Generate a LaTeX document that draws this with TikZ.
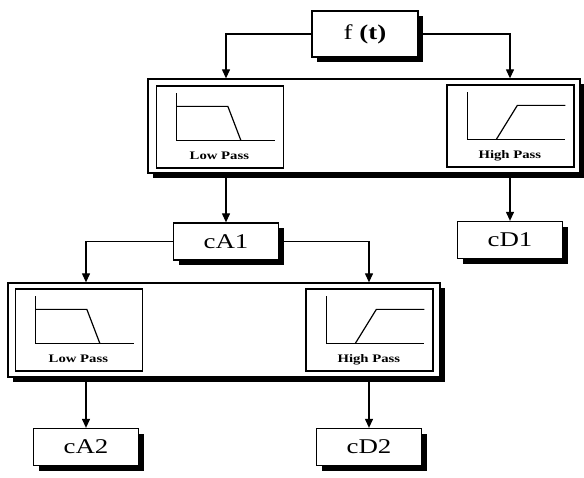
\documentclass[tikz,border=0pt]{standalone}
\usepackage{fontspec}
\newfontfamily\boxfont[FakeStretch=1.28]{Liberation Serif}
\usetikzlibrary{arrows.meta,shadows}

\tikzset{
  sig/.style={draw,fill=white,line width=1.3pt,minimum width=105pt,minimum height=37pt,
    font=\boxfont\fontsize{21}{25}\selectfont,
    drop shadow={shadow xshift=5pt,shadow yshift=-5pt,fill=black,opacity=1}},
  bank/.style={draw,fill=white,line width=1.3pt,minimum width=432pt,minimum height=94pt,
    drop shadow={shadow xshift=5pt,shadow yshift=-5pt,fill=black,opacity=1}},
  filt/.style={draw,line width=1.3pt,minimum width=127pt,minimum height=82pt,inner sep=0pt},
  flabel/.style={anchor=base,inner sep=0pt,font=\boxfont\fontsize{11.5}{13}\selectfont\bfseries},
  lowpass/.pic={
    \draw (21,8) -- (21,55) -- (119,55);
    \draw (21,21) -- (72,21) -- (85,55);
    \node[flabel] (-txt) at (63.5,74) {Low Pass};
  },
  highpass/.pic={
    \draw (21,8) -- (21,55) -- (119,55);
    \draw (50,55) -- (71,21) -- (119,21);
    \node[flabel] (-txt) at (63.5,74) {High Pass};
  }
}

\begin{document}
\begin{tikzpicture}[x=1pt,y=-1pt,line width=1.2pt,>={Triangle[width=8pt,length=9pt]}]
  \useasboundingbox (0,0) rectangle (584,477);
  % first level
  \node[sig,minimum width=106pt,minimum height=46pt] (ft) at (365,34) {f \textbf{(t)}};
  \node[bank] (bank1) at (364,126) {};
  \node[filt] (lp1) at (220,127) {};
  \node[filt] (hp1) at (510.5,126) {};
  \pic (lpg1) at (lp1.north west) {lowpass};
  \pic (hpg1) at (hp1.north west) {highpass};
  \node[sig] (cA1) at (226,241.5) {cA1};
  \node[sig] (cD1) at (510,240) {cD1};
  \draw[->] (ft.west) -| (cA1.north |- bank1.north);
  \draw[->] (ft.east) -| (cD1.north |- bank1.north);
  \draw[->] (cA1.north |- bank1.south) -- (cA1.north);
  \draw[->] (cD1.north |- bank1.south) -- (cD1.north);
  % second level
  \node[bank] (bank2) at (224,330) {};
  \node[filt] (lp2) at (79,330) {};
  \node[filt] (hp2) at (369.5,330) {};
  \pic (lpg2) at (lp2.north west) {lowpass};
  \pic (hpg2) at (hp2.north west) {highpass};
  \node[sig] (cA2) at (86,447) {cA2};
  \node[sig] (cD2) at (369,447) {cD2};
  \draw[->] (cA1.west) -| (cA2.north |- bank2.north);
  \draw[->] (cA1.east) -| (cD2.north |- bank2.north);
  \draw[->] (cA2.north |- bank2.south) -- (cA2.north);
  \draw[->] (cD2.north |- bank2.south) -- (cD2.north);
\end{tikzpicture}
\end{document}
